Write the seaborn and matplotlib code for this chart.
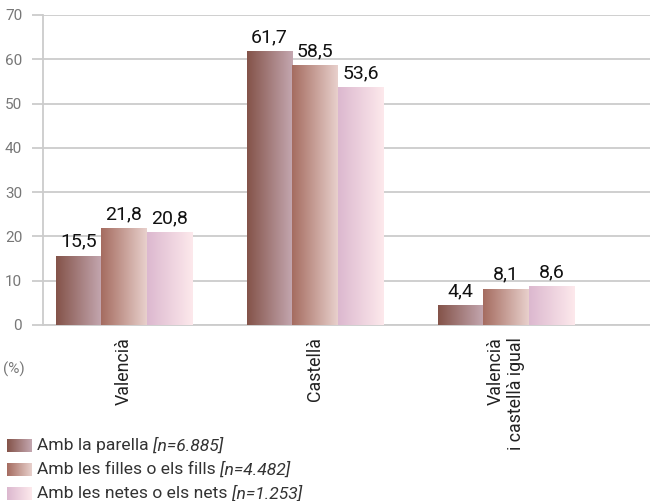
import numpy as np
import pandas as pd
import matplotlib
matplotlib.use("Agg")
import matplotlib.pyplot as plt
import seaborn as sns
from matplotlib.colors import to_rgb

categories = ["Valencià", "Castellà", "Valencià\ni castellà igual"]
series = ["Amb la parella", "Amb les filles o els fills", "Amb les netes o els nets"]
series_n = ["[n=6.885]", "[n=4.482]", "[n=1.253]"]
parella = [15.5, 61.7, 4.4]
fills = [21.8, 58.5, 8.1]
nets = [20.8, 53.6, 8.6]
yticks = [0, 10, 20, 30, 40, 50, 60, 70]

grad_left = ["#845349", "#a56c60", "#dcb8cf"]
grad_right = ["#c4a7b0", "#e8d0cc", "#fde9ec"]

sns.set_theme(style="white")
plt.rcParams["font.family"] = ["Roboto", "DejaVu Sans"]

values = [parella, fills, nets]
rows = []
for s, vals in zip(series, values):
    for c, v in zip(categories, vals):
        rows.append({"cat": c, "series": s, "val": v})
df = pd.DataFrame(rows)

W, H = 650, 501
fig = plt.figure(figsize=(W / 100, H / 100), dpi=100)
ax = fig.add_axes([43 / W, (H - 325) / H, (W - 43) / W, 310 / H])

sns.barplot(data=df, x="cat", y="val", hue="series", order=categories,
            hue_order=series, palette=grad_left, saturation=1, width=0.717,
            gap=0, dodge=True, legend=False, errorbar=None, ax=ax)

def gradient(c0, c1, n=128):
    a, b = np.array(to_rgb(c0)), np.array(to_rgb(c1))
    t = np.linspace(0, 1, n)[:, None]
    return (a + (b - a) * t)[None, :, :]

for i, cont in enumerate(ax.containers):
    img = gradient(grad_left[i], grad_right[i])
    for bar, v in zip(cont, values[i]):
        x0, w, h = bar.get_x(), bar.get_width(), bar.get_height()
        bar.set_visible(False)
        ax.imshow(img, extent=[x0, x0 + w, 0, h], aspect="auto",
                  interpolation="bilinear", zorder=3)
        ax.annotate(f"{v:.1f}".replace(".", ","), (x0 + w / 2, h),
                    xytext=(0, 4), textcoords="offset points", ha="center",
                    va="bottom", fontsize=14, color="#111111", zorder=4)

ax.set_xlim(-0.424, 2.754)
ax.set_ylim(0, 70)
ax.set_yticks(yticks)
ax.set_yticklabels([str(t) for t in yticks])
ax.yaxis.grid(True, color="#cccccc", lw=1.3)
ax.set_axisbelow(True)
ax.tick_params(axis="y", length=8, color="#cccccc", width=1.3, pad=7,
               labelsize=11, labelcolor="#777777", left=True)
ax.set_xticks(range(len(categories)))
ax.set_xticklabels(categories, rotation=90, ha="center", va="top",
                   multialignment="right", fontsize=12.8, color="#222222")
ax.tick_params(axis="x", length=0, pad=9)
ax.set_xlabel("")
ax.set_ylabel("")
for s in ["top", "right"]:
    ax.spines[s].set_visible(False)
for s in ["left", "bottom"]:
    ax.spines[s].set_color("#cccccc")
    ax.spines[s].set_linewidth(1.3)

fig.text(14 / W, 1 - 369 / H, "(%)", ha="center", va="center",
         fontsize=11, color="#777777")

# legend
renderer = fig.canvas.get_renderer()
tops = [439, 463, 487]
for i, (s, n) in enumerate(zip(series, series_n)):
    top = tops[i]
    lax = fig.add_axes([7 / W, 1 - (top + 13) / H, 25 / W, 13 / H])
    lax.imshow(gradient(grad_left[i], grad_right[i]), aspect="auto",
               interpolation="bilinear")
    lax.set_axis_off()
    yc = 1 - (top + 6.5) / H
    t = fig.text(37 / W, yc, s + " ", ha="left", va="center", fontsize=12.6,
                 color="#333333")
    bb = t.get_window_extent(renderer)
    fig.text(bb.x1 / W, yc, n, ha="left", va="center", fontsize=12.6,
             color="#333333", fontstyle="italic")

fig.savefig("out.png", dpi=100)
